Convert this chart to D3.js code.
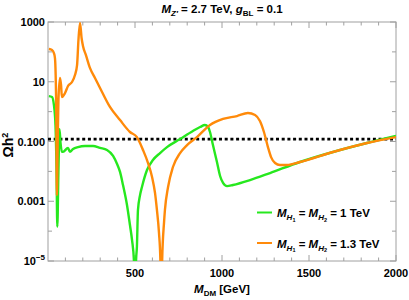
<!DOCTYPE html>
<html>
<head>
<meta charset="utf-8">
<script src="https://d3js.org/d3.v7.min.js"></script>
<style>
  body { margin: 0; background: #fff; }
  text { font-family: "Liberation Sans", Arial, sans-serif; font-weight: bold; }
</style>
</head>
<body>
<script>
// relic density vs dark matter mass, two Higgs mass choices
var mdmGreen = [5, 23, 34, 43, 49, 53.5, 60, 66, 72, 80, 86, 115, 126, 144, 172, 213, 259, 299, 339, 374, 397, 414, 431, 454, 471, 483, 494, 500, 506, 511, 517, 529, 540, 569, 603, 644, 684, 759, 833, 874, 902, 920, 931, 948, 971, 989, 1006, 1029, 1063, 1161, 1276, 1448, 1638, 1833, 2000];
var omegaGreen = [3.3, 3.1, 1.67, 0.36, 0.011, 1.4e-4, 0.011, 0.26, 0.09, 0.045, 0.045, 0.061, 0.045, 0.056, 0.065, 0.071, 0.071, 0.061, 0.052, 0.033, 0.0177, 0.0096, 0.0035, 7.5e-4, 1.6e-4, 5e-5, 1e-5, 1e-7, 1e-5, 3e-5, 5.1e-4, 0.0016, 0.003, 0.0111, 0.024, 0.041, 0.065, 0.121, 0.224, 0.305, 0.356, 0.305, 0.208, 0.076, 0.0206, 0.007, 0.0041, 0.0032, 0.0035, 0.0051, 0.0088, 0.0206, 0.0446, 0.089, 0.153];

var mdmOrange = [5, 23, 34, 40, 44, 48, 51, 55, 60, 69, 75, 80, 98, 115, 138, 155, 167, 175, 184, 193, 201, 218, 241, 270, 299, 356, 414, 471, 511, 546, 575, 598, 615, 626, 638, 646, 651, 656, 667, 672, 690, 718, 759, 799, 856, 931, 1006, 1086, 1149, 1190, 1218, 1241, 1264, 1282, 1305, 1333, 1374, 1448, 1638, 1833, 2000];
var omegaOrange = [125, 116, 91, 62, 17, 0.52, 0.0016, 0.052, 2.45, 13.4, 7.8, 3.1, 4.2, 7.2, 9.8, 16.8, 36, 250, 926, 291, 157, 78, 29, 13.4, 6.2, 1.43, 0.52, 0.208, 0.14, 0.052, 0.019, 0.0065, 0.0019, 5.1e-4, 8.6e-5, 1e-5, 1e-7, 1e-5, 2e-4, 5.1e-4, 0.003, 0.014, 0.041, 0.076, 0.14, 0.356, 0.567, 0.71, 0.9, 0.77, 0.485, 0.208, 0.065, 0.030, 0.019, 0.0163, 0.0163, 0.0206, 0.0446, 0.089, 0.14];

var planck = 0.12;
var xMajor = [500, 1000, 1500, 2000];
var yDecades = [1000, 100, 10, 1, 0.1, 0.01, 0.001, 1e-4, 1e-5];
var yLabeled = {"1000": "1000", "10": "10", "0.1": "0.100", "0.001": "0.001"};

var W = 409, H = 300;
var pL = 48, pR = 396, pT = 22, pB = 261;

var svg = d3.select("body").append("svg")
  .attr("width", W).attr("height", H);

var x = d3.scaleLinear().domain([0, 2000]).range([pL, pR]);
var y = d3.scaleLog().domain([1e-5, 1000]).range([pB, pT]);

svg.append("clipPath").attr("id", "plot")
  .append("rect").attr("x", pL).attr("y", pT)
  .attr("width", pR - pL).attr("height", pB - pT);

var frame = "#a0a0a0";

// ticks, inward on all four sides
var xMinor = d3.range(100, 2001, 100);
xMinor.forEach(function(v) {
  var len = xMajor.indexOf(v) >= 0 ? 6 : 3.5;
  svg.append("line").attr("x1", x(v)).attr("x2", x(v))
    .attr("y1", pB).attr("y2", pB - len).attr("stroke", frame);
  svg.append("line").attr("x1", x(v)).attr("x2", x(v))
    .attr("y1", pT).attr("y2", pT + len).attr("stroke", frame);
});
yDecades.forEach(function(v) {
  var len = (yLabeled[String(v)] || v == 1e-5) ? 6 : 4;
  svg.append("line").attr("x1", pL).attr("x2", pL + len)
    .attr("y1", y(v)).attr("y2", y(v)).attr("stroke", frame);
  svg.append("line").attr("x1", pR).attr("x2", pR - len)
    .attr("y1", y(v)).attr("y2", y(v)).attr("stroke", frame);
});

svg.append("rect").attr("x", pL).attr("y", pT)
  .attr("width", pR - pL).attr("height", pB - pT)
  .attr("fill", "none").attr("stroke", frame).attr("stroke-width", 1);

// tick labels
xMajor.forEach(function(v) {
  svg.append("text").attr("x", x(v)).attr("y", 277)
    .attr("text-anchor", "middle").attr("font-size", 11).text(v);
});
yDecades.forEach(function(v) {
  var lab = yLabeled[String(v)];
  if (lab) {
    svg.append("text").attr("x", 45).attr("y", y(v) + 4)
      .attr("text-anchor", "end").attr("font-size", 11).text(lab);
  }
});
var t5 = svg.append("text").attr("x", 45).attr("y", y(1e-5) + 4)
  .attr("text-anchor", "end").attr("font-size", 11);
t5.append("tspan").text("10");
t5.append("tspan").attr("dy", -5).attr("font-size", 8).text("\u22125");

// curves
var line = d3.line()
  .x(function(d) { return x(d[0]); })
  .y(function(d) { return y(d[1]); })
  .curve(d3.curveMonotoneX);

var g = svg.append("g").attr("clip-path", "url(#plot)");

g.append("line").attr("x1", pL).attr("x2", pR)
  .attr("y1", y(planck)).attr("y2", y(planck))
  .attr("stroke", "#000").attr("stroke-width", 2.6)
  .attr("stroke-dasharray", "3,2.7");

var green = "#26e81e", orange = "#ff8a0a";

g.append("path").datum(d3.zip(mdmGreen, omegaGreen))
  .attr("d", line).attr("fill", "none")
  .attr("stroke", green).attr("stroke-width", 2.4);
g.append("path").datum(d3.zip(mdmOrange, omegaOrange))
  .attr("d", line).attr("fill", "none")
  .attr("stroke", orange).attr("stroke-width", 2.4);

// title
var tt = svg.append("text").attr("x", 222).attr("y", 13)
  .attr("text-anchor", "middle").attr("font-size", 11.5);
tt.append("tspan").attr("font-style", "italic").text("M");
tt.append("tspan").attr("dy", 3).attr("font-size", 8).attr("font-style", "italic").text("Z\u2032");
tt.append("tspan").attr("dy", -3).text(" = 2.7 TeV, ");
tt.append("tspan").attr("font-style", "italic").text("g");
tt.append("tspan").attr("dy", 3).attr("font-size", 8).text("BL");
tt.append("tspan").attr("dy", -3).text(" = 0.1");

// axis titles
var xt = svg.append("text").attr("x", 222).attr("y", 293)
  .attr("text-anchor", "middle").attr("font-size", 11.5);
xt.append("tspan").attr("font-style", "italic").text("M");
xt.append("tspan").attr("dy", 3).attr("font-size", 8).text("DM");
xt.append("tspan").attr("dy", -3).text(" [GeV]");

var yt = svg.append("text").attr("transform", "translate(13,145) rotate(-90)")
  .attr("text-anchor", "middle").attr("font-size", 14).attr("font-weight", "normal");
yt.append("tspan").text("\u03A9h");
yt.append("tspan").attr("dy", -5).attr("font-size", 9).text("2");

// legend
var legend = [
  {color: green, label: "1 TeV", y: 212.5},
  {color: orange, label: "1.3 TeV", y: 243}
];
legend.forEach(function(l) {
  svg.append("line").attr("x1", 257).attr("x2", 272)
    .attr("y1", l.y).attr("y2", l.y)
    .attr("stroke", l.color).attr("stroke-width", 2);
  var t = svg.append("text").attr("x", 277).attr("y", l.y + 4.5).attr("font-size", 11.5);
  t.append("tspan").attr("font-style", "italic").text("M");
  t.append("tspan").attr("dy", 3).attr("font-size", 8).attr("font-style", "italic").text("H");
  t.append("tspan").attr("dy", 1.5).attr("font-size", 5.5).text("1");
  t.append("tspan").attr("dy", -4.5).text(" = ");
  t.append("tspan").attr("font-style", "italic").text("M");
  t.append("tspan").attr("dy", 3).attr("font-size", 8).attr("font-style", "italic").text("H");
  t.append("tspan").attr("dy", 1.5).attr("font-size", 5.5).text("2");
  t.append("tspan").attr("dy", -4.5).text(" = " + l.label);
});
</script>
</body>
</html>
